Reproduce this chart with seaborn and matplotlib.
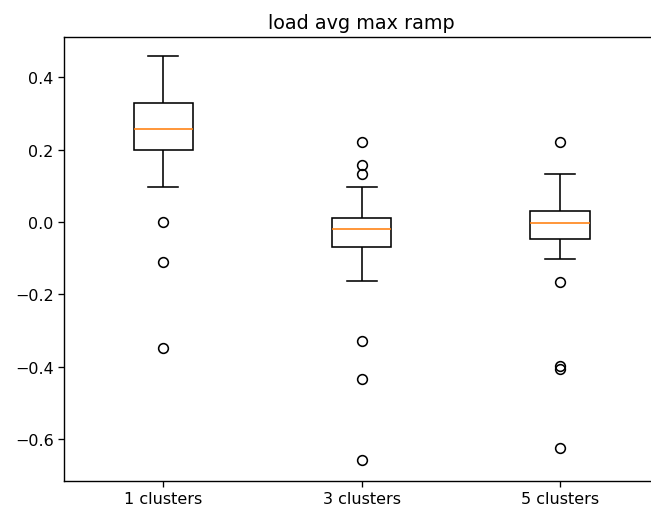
import matplotlib
matplotlib.use("Agg")
import matplotlib.pyplot as plt
import seaborn as sns
import pandas as pd

title = "load avg max ramp"
categories = ["1 clusters", "3 clusters", "5 clusters"]

vals_1 = [-0.349, -0.110, 0.0, 0.096, 0.15, 0.199, 0.21, 0.225, 0.238, 0.248,
          0.257, 0.27, 0.285, 0.30, 0.318, 0.329, 0.35, 0.37, 0.40, 0.43, 0.458]
vals_3 = [-0.657, -0.434, -0.328, -0.163, -0.12, -0.09, -0.068, -0.06, -0.05, -0.04,
          -0.032, -0.025, -0.020, -0.012, -0.005, 0.0, 0.004, 0.007, 0.010, 0.04,
          0.07, 0.096, 0.133, 0.158, 0.222]
vals_5 = [-0.626, -0.408, -0.399, -0.167, -0.103, -0.07, -0.047, -0.04, -0.033, -0.025,
          -0.018, -0.01, -0.004, 0.002, 0.008, 0.014, 0.02, 0.025, 0.030, 0.05,
          0.07, 0.09, 0.11, 0.132, 0.222]

df = pd.DataFrame({
    "group": [categories[0]] * len(vals_1) + [categories[1]] * len(vals_3) + [categories[2]] * len(vals_5),
    "value": vals_1 + vals_3 + vals_5,
})

fig = plt.figure(figsize=(6.51, 5.10), dpi=100)
ax = fig.add_axes([0.0985, 0.0555, 0.914, 0.8695])

sns.boxplot(
    data=df, x="group", y="value", order=categories, ax=ax,
    width=0.3, color="white", saturation=1, linecolor="black", linewidth=1.15,
    whis=1.5,
    medianprops=dict(color="#ff7f0e", linewidth=1.15),
    flierprops=dict(marker="o", markerfacecolor="none", markeredgecolor="black",
                    markersize=7, markeredgewidth=1.15),
)

ax.set_xlim(-0.5, 2.5)
ax.set_ylim(-0.7155, 0.5107)
ax.set_xlabel("")
ax.set_ylabel("")
for s in ax.spines.values():
    s.set_linewidth(1.0)
ax.set_title(title, fontsize=13.8, pad=7)
ax.tick_params(labelsize=11.5, length=4, width=0.95)

fig.savefig("out.png", dpi=100)
